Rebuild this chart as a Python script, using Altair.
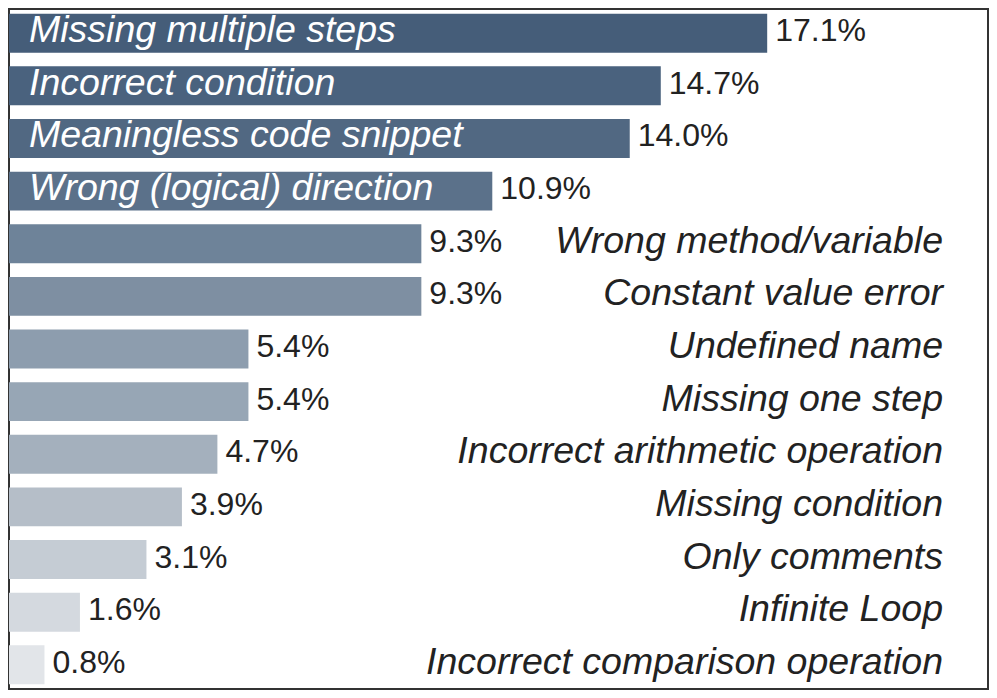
import altair as alt
import pandas as pd

categories = [
    "Missing multiple steps",
    "Incorrect condition",
    "Meaningless code snippet",
    "Wrong (logical) direction",
    "Wrong method/variable",
    "Constant value error",
    "Undefined name",
    "Missing one step",
    "Incorrect arithmetic operation",
    "Missing condition",
    "Only comments",
    "Infinite Loop",
    "Incorrect comparison operation",
]
values = [17.1, 14.7, 14.0, 10.9, 9.3, 9.3, 5.4, 5.4, 4.7, 3.9, 3.1, 1.6, 0.8]
colors = [
    "#455d79", "#4a627e", "#516882", "#5b718a", "#6e8399", "#7e8fa2",
    "#8d9dae", "#97a6b5", "#a4b0bd", "#b5bec8", "#c5ccd4", "#d4d9df", "#e2e5e9",
]

df = pd.DataFrame({"category": categories, "value": values})
df["label"] = df["value"].map(lambda v: f"{v:.1f}%")
df["inside"] = df["value"] > 10

FONT = "Liberation Sans"
W, H = 979, 680

base = alt.Chart(df).encode(
    y=alt.Y(
        "category:N",
        sort=categories,
        axis=None,
        scale=alt.Scale(paddingInner=0.26, paddingOuter=0.09),
    )
)

xscale = alt.Scale(domain=[0, 22.08])

bars = base.mark_bar().encode(
    x=alt.X("value:Q", scale=xscale, axis=None),
    color=alt.Color(
        "category:N",
        sort=categories,
        scale=alt.Scale(domain=categories, range=colors),
        legend=None,
    ),
)

vals = base.mark_text(
    align="left", baseline="middle", dx=8, dy=-2, fontSize=32, font=FONT, color="#222222"
).encode(x=alt.X("value:Q", scale=xscale), text="label:N")

inside = base.transform_filter("datum.inside").mark_text(
    align="left", baseline="middle", dy=-2, fontSize=37.5, font=FONT,
    fontStyle="italic", color="white"
).encode(x=alt.value(20), text="category:N")

outside = base.transform_filter("!datum.inside").mark_text(
    align="right", baseline="middle", dy=-2, fontSize=37.5, font=FONT,
    fontStyle="italic", color="#222222"
).encode(x=alt.value(934), text="category:N")

chart = (
    alt.layer(bars, vals, inside, outside)
    .properties(width=W, height=H, padding={"left": 1, "top": 1, "right": 1, "bottom": 1},
                background="white")
    .configure_view(stroke="#333333", strokeWidth=2)
)

chart.save("out.html", embed_options={"renderer": "svg", "actions": False})
